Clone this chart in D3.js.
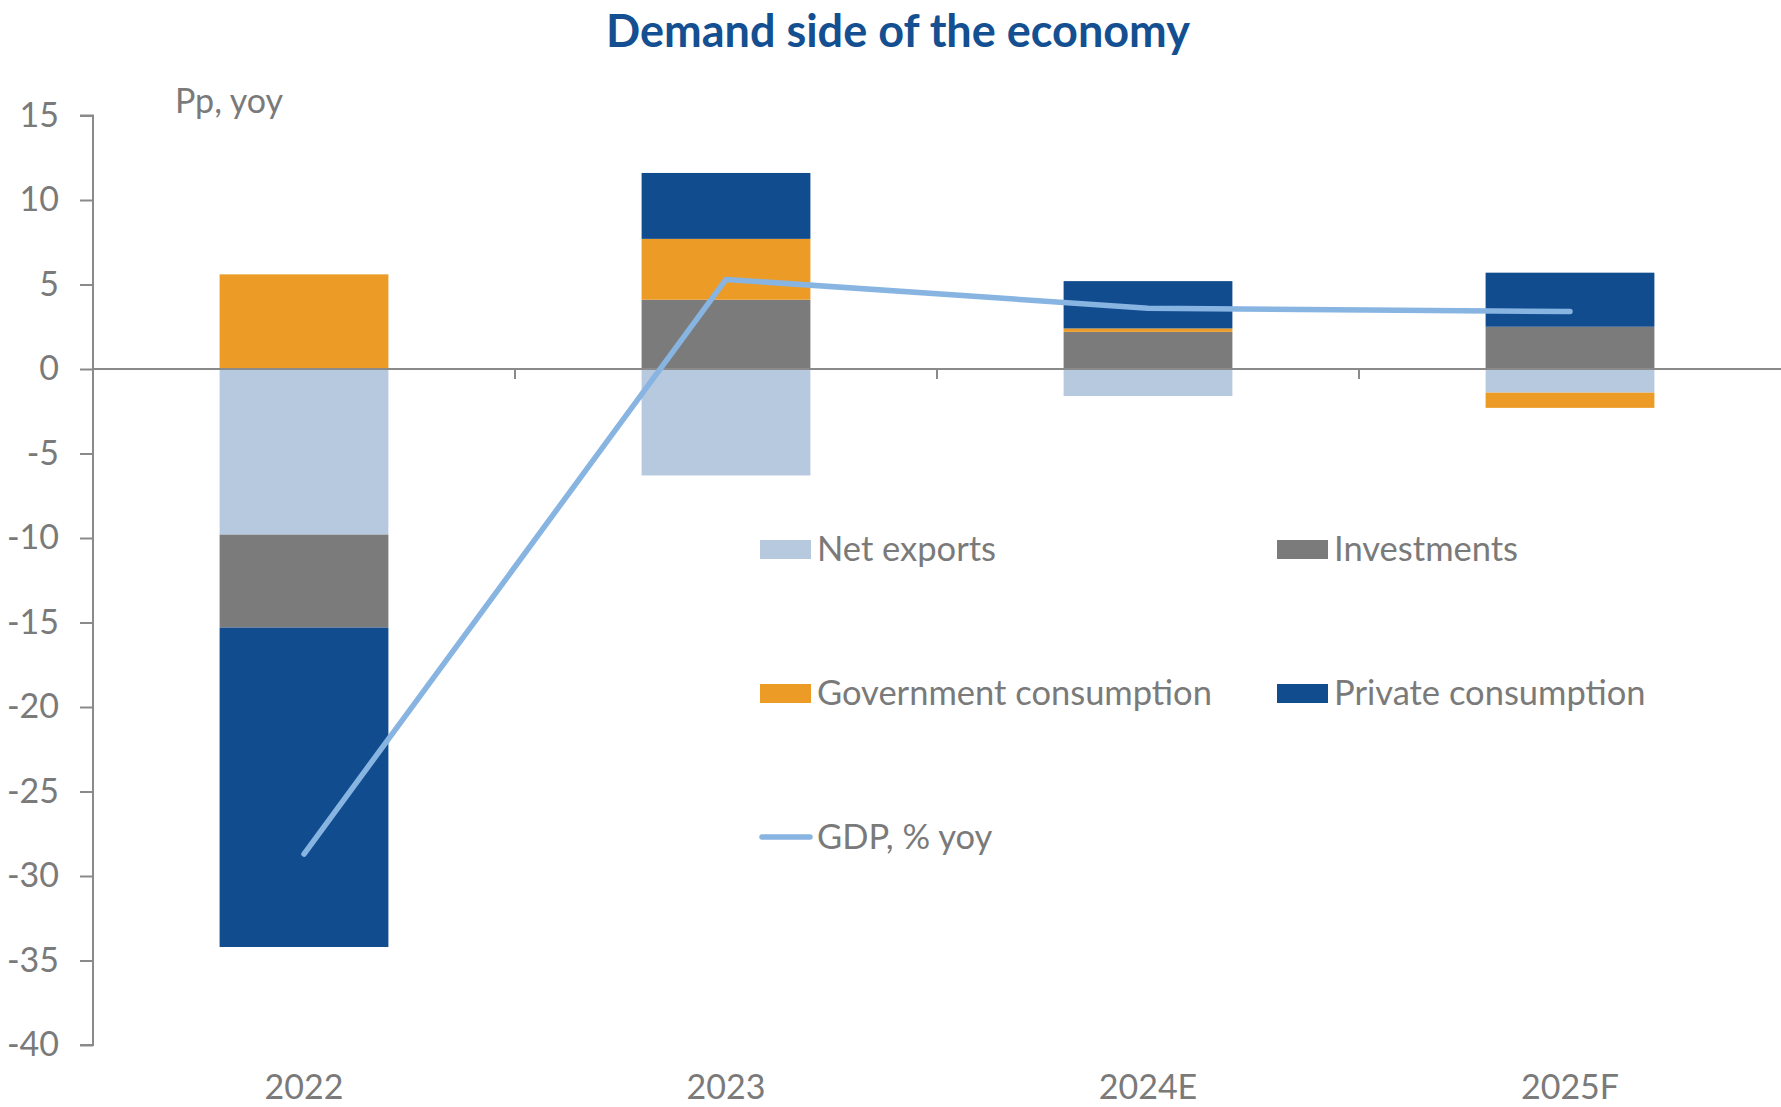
<!DOCTYPE html>
<html>
<head>
<meta charset="utf-8">
<script src="https://cdn.jsdelivr.net/npm/d3@7"></script>
<style>
  html, body { margin: 0; padding: 0; background: #fff; }
  svg { display: block; }
  text { font-family: Lato, "Noto Sans", sans-serif; }
</style>
</head>
<body>
<svg id="chart" width="1781" height="1107"></svg>
<script>
// Contributions to real GDP growth, percentage points, year on year
const categories = ["2022", "2023", "2024E", "2025F"];
const netExports = [-9.8, -6.3, -1.6, -1.4];
const investments = [-5.5, 4.1, 2.2, 2.5];
const governmentConsumption = [5.6, 3.6, 0.2, -0.9];
const privateConsumption = [-18.9, 3.9, 2.8, 3.2];
const gdpGrowth = [-28.7, 5.3, 3.6, 3.4];
const yTicks = [15, 10, 5, 0, -5, -10, -15, -20, -25, -30, -35, -40];

const seriesNames = ["Net exports", "Investments", "Government consumption", "Private consumption"];
const seriesValues = [netExports, investments, governmentConsumption, privateConsumption];
const seriesColors = ["#b7c9df", "#7b7b7b", "#ec9c26", "#114c8f"];
const lineColor = "#88b4e2";
const textColor = "#7a7a7a";
const axisColor = "#8a8a8a";

const svg = d3.select("#chart");
const plot = { left: 93, right: 1781, top: 115.5, bottom: 1045 };

const x = d3.scaleBand()
  .domain(categories)
  .range([plot.left, plot.right])
  .paddingInner(0.6)
  .paddingOuter(0.3);

const y = d3.scaleLinear()
  .domain([-40, 15])
  .range([plot.bottom, plot.top]);

// Table for stacking: one row per category
const rows = categories.map((c, i) => {
  const r = { category: c };
  seriesNames.forEach((s, j) => { r[s] = seriesValues[j][i]; });
  return r;
});

const stacked = d3.stack()
  .keys(seriesNames)
  .offset(d3.stackOffsetDiverging)(rows);

// Title
svg.append("text")
  .attr("x", 898)
  .attr("y", 47)
  .attr("text-anchor", "middle")
  .attr("font-size", 45)
  .attr("font-weight", 700)
  .attr("fill", "#134f91")
  .text("Demand side of the economy");

// Unit label
svg.append("text")
  .attr("x", 175)
  .attr("y", 113)
  .attr("font-size", 34)
  .attr("fill", textColor)
  .text("Pp, yoy");

// Stacked bars
svg.append("g")
  .selectAll("g")
  .data(stacked)
  .join("g")
  .attr("fill", (d, i) => seriesColors[i])
  .selectAll("rect")
  .data(d => d)
  .join("rect")
  .attr("x", d => x(d.data.category))
  .attr("width", x.bandwidth())
  .attr("y", d => y(Math.max(d[0], d[1])))
  .attr("height", d => Math.abs(y(d[0]) - y(d[1])));

// Y axis
const yAxis = svg.append("g")
  .attr("transform", `translate(${plot.left},0)`)
  .call(d3.axisLeft(y).tickValues(yTicks).tickSize(13).tickPadding(21).tickFormat(d3.format("d")));
yAxis.select(".domain").attr("stroke", axisColor).attr("stroke-width", 2)
  .attr("d", `M-13,${y(15)}H0V${y(-40)}H-13`);
yAxis.selectAll(".tick line").attr("stroke", axisColor).attr("stroke-width", 2);
yAxis.selectAll(".tick text")
  .attr("fill", textColor)
  .attr("font-size", 34)
  .attr("font-family", "Lato, 'Noto Sans', sans-serif")
  .text(d => d < 0 ? "-" + Math.abs(d) : d);

// Zero line with category separators
const zeroY = y(0);
svg.append("line")
  .attr("x1", plot.left).attr("x2", plot.right)
  .attr("y1", zeroY).attr("y2", zeroY)
  .attr("stroke", axisColor).attr("stroke-width", 2);
const step = x.step();
const separators = d3.range(1, categories.length).map(i => x(categories[i]) - x.paddingInner() * step / 2);
svg.append("g")
  .selectAll("line")
  .data(separators)
  .join("line")
  .attr("x1", d => d).attr("x2", d => d)
  .attr("y1", zeroY).attr("y2", zeroY + 10)
  .attr("stroke", axisColor).attr("stroke-width", 2);

// Category labels along the bottom
svg.append("g")
  .selectAll("text")
  .data(categories)
  .join("text")
  .attr("x", d => x(d) + x.bandwidth() / 2)
  .attr("y", 1099)
  .attr("text-anchor", "middle")
  .attr("font-size", 34)
  .attr("fill", textColor)
  .text(d => d);

// GDP line
const line = d3.line()
  .x((d, i) => x(categories[i]) + x.bandwidth() / 2)
  .y(d => y(d));
svg.append("path")
  .datum(gdpGrowth)
  .attr("d", line)
  .attr("fill", "none")
  .attr("stroke", lineColor)
  .attr("stroke-width", 5.5)
  .attr("stroke-linecap", "round")
  .attr("stroke-linejoin", "round");

// Legend
const legendItems = [
  { name: "Net exports", color: seriesColors[0], type: "rect", col: 0, row: 0 },
  { name: "Investments", color: seriesColors[1], type: "rect", col: 1, row: 0 },
  { name: "Government consumption", color: seriesColors[2], type: "rect", col: 0, row: 1 },
  { name: "Private consumption", color: seriesColors[3], type: "rect", col: 1, row: 1 },
  { name: "GDP, % yoy", color: lineColor, type: "line", col: 0, row: 2 }
];
const legendX = [760, 1277];
const legendY = [549, 693, 837];
const legend = svg.append("g")
  .selectAll("g")
  .data(legendItems)
  .join("g")
  .attr("transform", d => `translate(${legendX[d.col]},${legendY[d.row]})`);
legend.filter(d => d.type === "rect")
  .append("rect")
  .attr("x", 0).attr("y", -9).attr("width", 51).attr("height", 19)
  .attr("fill", d => d.color);
legend.filter(d => d.type === "line")
  .append("line")
  .attr("x1", 2).attr("x2", 50).attr("y1", 0).attr("y2", 0)
  .attr("stroke", d => d.color).attr("stroke-width", 5.5)
  .attr("stroke-linecap", "round");
legend.append("text")
  .attr("x", 57)
  .attr("y", 0)
  .attr("dy", "0.35em")
  .attr("font-size", 34.5)
  .attr("fill", textColor)
  .text(d => d.name);
</script>
</body>
</html>
